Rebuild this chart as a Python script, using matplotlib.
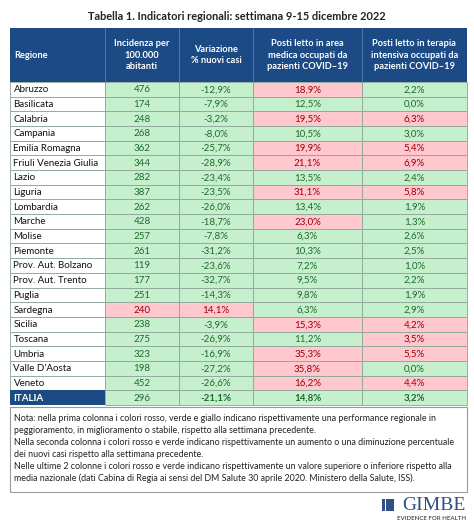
import numpy as np
import matplotlib.pyplot as plt
from matplotlib.patches import Rectangle

plt.rcParams['font.family'] = ['Lato', 'DejaVu Sans']

# Data
regioni = ['Abruzzo', 'Basilicata', 'Calabria', 'Campania', 'Emilia Romagna',
           'Friuli Venezia Giulia', 'Lazio', 'Liguria', 'Lombardia', 'Marche',
           'Molise', 'Piemonte', 'Prov. Aut. Bolzano', 'Prov. Aut. Trento',
           'Puglia', 'Sardegna', 'Sicilia', 'Toscana', 'Umbria', "Valle D'Aosta",
           'Veneto', 'ITALIA']
incidenza = [476, 174, 248, 268, 362, 344, 282, 387, 262, 428, 257, 261, 119,
             177, 251, 240, 238, 275, 323, 198, 452, 296]
incidenza_peggiora = [False] * 15 + [True] + [False] * 6
variazione = [-12.9, -7.9, -3.2, -8.0, -25.7, -28.9, -23.4, -23.5, -26.0, -18.7,
              -7.8, -31.2, -23.6, -32.7, -14.3, 14.1, -3.9, -26.9, -16.9, -27.2,
              -26.6, -21.1]
area_medica = [18.9, 12.5, 19.5, 10.5, 19.9, 21.1, 13.5, 31.1, 13.4, 23.0, 6.3,
               10.3, 7.2, 9.5, 9.8, 6.3, 15.3, 11.2, 35.3, 35.8, 16.2, 14.8]
terapia_int = [2.2, 0.0, 6.3, 3.0, 5.4, 6.9, 2.4, 5.8, 1.9, 1.3, 2.6, 2.5, 1.0,
               2.2, 1.9, 2.9, 4.2, 3.5, 5.5, 0.0, 4.4, 3.2]
intestazioni = ['Regione', 'Incidenza per\n100.000\nabitanti',
                'Variazione\n% nuovi casi',
                'Posti letto in area\nmedica occupati da\npazienti COVID\u201319',
                'Posti letto in terapia\nintensiva occupati da\npazienti COVID\u201319']
titolo = 'Tabella 1. Indicatori regionali: settimana 9-15 dicembre 2022'
nota = ('Nota: nella prima colonna i colori rosso, verde e giallo indicano rispettivamente una performance regionale in\n'
        'peggioramento, in miglioramento o stabile, rispetto alla settimana precedente.\n'
        'Nella seconda colonna i colori rosso e verde indicano rispettivamente un aumento o una diminuzione percentuale\n'
        'dei nuovi casi rispetto alla settimana precedente.\n'
        'Nelle ultime 2 colonne i colori rosso e verde indicano rispettivamente un valore superiore o inferiore rispetto alla\n'
        'media nazionale (dati Cabina di Regia ai sensi del DM Salute 30 aprile 2020. Ministero della Salute, ISS).')

def fmt(v):
    return f'{v:.1f}%'.replace('.', ',')

# colours
BLU = '#1b4a84'
VERDE, VERDE_T = '#c6efce', '#1e6b2a'
ROSSO, ROSSO_T = '#ffc7ce', '#9c0006'
BORDO = '#8aa596'

fig = plt.figure(figsize=(4.74, 5.25), dpi=100)
ax = fig.add_axes([0, 0, 1, 1])
ax.set_xlim(0, 474)
ax.set_ylim(525, 0)
ax.axis('off')

col_x = [10.5, 105, 179, 253, 362, 467]
top, head_h = 28, 54
row_h = 14.68

ax.text(237, 16, titolo, ha='center', va='center', fontsize=7.9,
        fontweight='bold', color='#222222')

# header
ax.add_patch(Rectangle((col_x[0], top), col_x[-1] - col_x[0], head_h,
                       facecolor=BLU, edgecolor='none'))
for j, h in enumerate(intestazioni):
    if j > 0:
        ax.plot([col_x[j]] * 2, [top, top + head_h], color='#5a7fae', lw=0.6)
    xc = col_x[j] + 4 if j == 0 else (col_x[j] + col_x[j + 1]) / 2
    ax.text(xc, top + head_h / 2, h, ha='left' if j == 0 else 'center',
            va='center', fontsize=6.7, fontweight='bold', color='white',
            linespacing=1.3)

# body
y0 = top + head_h
n = len(regioni)
for i in range(n):
    y = y0 + i * row_h
    ita = regioni[i] == 'ITALIA'
    cells = [
        (str(incidenza[i]), incidenza_peggiora[i]),
        (fmt(variazione[i]), variazione[i] > 0),
        (fmt(area_medica[i]), area_medica[i] > area_medica[-1]),
        (fmt(terapia_int[i]), terapia_int[i] > terapia_int[-1]),
    ]
    ax.add_patch(Rectangle((col_x[0], y), col_x[1] - col_x[0], row_h,
                           facecolor=BLU if ita else 'white',
                           edgecolor='none' if ita else BORDO, lw=0.6))
    ax.text(col_x[0] + 3, y + row_h / 2 + 0.5, regioni[i], ha='left', va='center',
            fontsize=7.0, color='white' if ita else '#111111',
            fontweight='bold' if ita else 'normal')
    for j, (lab, rosso) in enumerate(cells):
        ax.add_patch(Rectangle((col_x[j + 1], y), col_x[j + 2] - col_x[j + 1], row_h,
                               facecolor=ROSSO if rosso else VERDE,
                               edgecolor=BORDO, lw=0.6))
        ax.text((col_x[j + 1] + col_x[j + 2]) / 2, y + row_h / 2 + 0.5, lab,
                ha='center', va='center', fontsize=7.0,
                color=ROSSO_T if rosso else VERDE_T,
                fontweight='bold' if (ita and j > 0) else 'normal')

# note box
y_end = y0 + n * row_h
ax.add_patch(Rectangle((col_x[0], y_end + 2), col_x[-1] - col_x[0], 492 - y_end - 2,
                       facecolor='white', edgecolor='#9a9a9a', lw=0.8))
ax.text(col_x[0] + 4, y_end + 9, nota, ha='left', va='top', fontsize=6.4,
        color='#222222', linespacing=1.42)

# logo
for r in range(3):
    for c in range(3):
        ax.add_patch(Rectangle((382 + c * 4.2, 499 + r * 4.2), 3.5, 3.5,
                               facecolor='#2f4f86', edgecolor='none'))
ax.text(466, 505, 'GIMBE', ha='right', va='center', fontsize=14,
        family='Liberation Serif', color='#2f4f86')
ax.text(466, 518, 'EVIDENCE FOR HEALTH', ha='right', va='center',
        fontsize=4.4, fontweight='bold', color='#555555')

fig.savefig('out.png', dpi=100)
